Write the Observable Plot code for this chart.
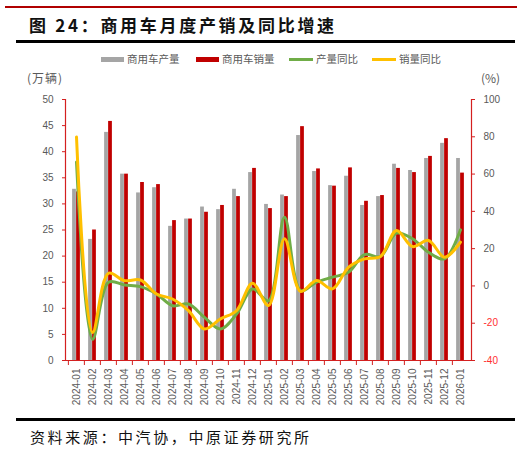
<!DOCTYPE html>
<html><head><meta charset="utf-8">
<script src="https://cdn.jsdelivr.net/npm/d3@7"></script>
<script src="https://cdn.jsdelivr.net/npm/@observablehq/plot@0.6"></script>
<style>
body{margin:0;width:524px;height:451px;position:relative;background:#fff;overflow:hidden;font-family:"Noto Sans CJK SC","Noto Sans",sans-serif;}
.abs{position:absolute;white-space:nowrap;}
.lg{font-size:10.5px;color:#595959;line-height:12px;}
</style></head>
<body>
<div class="abs" style="left:5px;top:6px;width:512px;height:2px;background:#b00000"></div>
<div class="abs" style="left:29px;top:13px;font-size:17px;font-weight:bold;letter-spacing:2.7px;color:#111;line-height:24px">图 24：商用车月度产销及同比增速</div>
<div class="abs" style="left:16px;top:40px;width:499px;height:2.5px;background:#000"></div>
<div id="legend"></div>
<div class="abs" style="left:27px;top:69px;font-size:12px;color:#595959;letter-spacing:1px">(万辆)</div>
<div class="abs" style="left:481px;top:69px;font-size:12px;color:#595959">(%)</div>
<div id="chart" class="abs" style="left:0;top:68px"></div>
<div class="abs" style="left:16px;top:418px;width:499px;height:2.5px;background:#000"></div>
<div class="abs" style="left:30px;top:427px;font-size:15px;letter-spacing:2.6px;color:#111;line-height:20px">资料来源：中汽协，中原证券研究所</div>
<script>
const months = ["2024-01","2024-02","2024-03","2024-04","2024-05","2024-06","2024-07","2024-08","2024-09","2024-10","2024-11","2024-12","2025-01","2025-02","2025-03","2025-04","2025-05","2025-06","2025-07","2025-08","2025-09","2025-10","2025-11","2025-12","2026-01"];
const production = [32.8,23.2,43.7,35.7,32.1,33.1,25.7,27.1,29.4,28.9,32.8,36.0,29.9,31.7,43.1,36.2,33.5,35.3,29.7,31.4,37.6,36.4,38.7,41.6,38.7];
const sales = [32.3,25.0,45.8,35.7,34.1,33.7,26.8,27.1,28.4,29.7,31.4,36.8,29.1,31.4,44.8,36.7,33.4,36.9,30.5,31.6,36.8,36.0,39.1,42.5,35.9];
const prodYoY = [66.5,-28.6,2.0,0.5,-0.4,-4.3,-10.6,-9.7,-16.9,-23.1,-15.1,-1.6,-8.0,36.9,-2.5,2.0,4.7,7.3,16.8,15.8,28.3,25.3,18.1,14.5,30.1];
const salesYoY = [79.9,-25.0,6.8,2.8,3.2,-4.3,-7.0,-13.3,-23.1,-17.7,-13.3,1.4,-10.5,25.3,-2.9,2.9,-1.6,10.0,14.5,15.8,29.7,21.1,24.4,15.4,23.5];
const leftTicks = [0,5,10,15,20,25,30,35,40,45,50];
const rightTicks = [-40,-20,0,20,40,60,80,100];
const legendItems = [
  {name:"商用车产量", color:"#a5a5a5", type:"bar", x:101},
  {name:"商用车销量", color:"#c00000", type:"bar", x:196},
  {name:"产量同比", color:"#70ad47", type:"line", x:289},
  {name:"销量同比", color:"#ffc000", type:"line", x:372}
];

const GRAY="#a5a5a5", RED="#c00000", GREEN="#70ad47", YELLOW="#ffc000", AXIS="#d42020", TXT="#595959";
const W=524, H=345, mL=65, mR=53, mT=31, mB=53;
const bw=(W-mL-mR)/months.length;
// right axis (%) mapped onto left scale domain [0,50]
const toL = v => (v+40)*50/140;
const fromL = d => Math.round(d*140/50-40);

const rows = months.map((m,i)=>({m, p:production[i], s:sales[i], py:toL(prodYoY[i]), sy:toL(salesYoY[i])}));

// legend
const lg=document.getElementById("legend");
legendItems.forEach(it=>{
  const d=document.createElement("div");
  d.className="abs lg"; d.style.left=it.x+"px"; d.style.top="53px";
  const sw=document.createElement("span");
  sw.style.cssText=`display:inline-block;vertical-align:middle;width:${it.type==="bar"?23:24}px;height:${it.type==="bar"?5:3}px;background:${it.color};margin-right:3px;margin-top:-2px`;
  d.appendChild(sw);
  d.appendChild(document.createTextNode(it.name));
  lg.appendChild(d);
});

const chart = Plot.plot({
  width: W, height: H,
  marginLeft: mL, marginRight: mR, marginTop: mT, marginBottom: mB,
  style: {fontFamily: "'Liberation Sans', Arial, sans-serif", fontSize: "10px", background: "transparent"},
  x: {domain: months, padding: 0, axis: null},
  y: {domain: [0,50], axis: null},
  marks: [
    Plot.barY(rows, {x:"m", y:"p", fill:GRAY, insetLeft: bw/2-4, insetRight: bw/2}),
    Plot.barY(rows, {x:"m", y:"s", fill:RED, insetLeft: bw/2, insetRight: bw/2-4}),
    Plot.lineY(rows, {x:"m", y:"py", stroke:GREEN, strokeWidth:3, curve:"catmull-rom"}),
    Plot.lineY(rows, {x:"m", y:"sy", stroke:YELLOW, strokeWidth:3, curve:"catmull-rom"}),
    Plot.ruleY([0], {stroke:AXIS, strokeWidth:1.2}),
    Plot.frame({anchor:"left", stroke:AXIS, strokeWidth:1.2}),
    Plot.frame({anchor:"right", stroke:AXIS, strokeWidth:1.2}),
    Plot.axisY({anchor:"left", ticks:leftTicks, tickSize:3, tickPadding:9, stroke:AXIS, fill:TXT, label:null, tickFormat:d=>String(d)}),
    Plot.axisY({anchor:"right", ticks:rightTicks.filter(v=>v>=0).map(toL), tickSize:3, tickPadding:9, stroke:AXIS, fill:TXT, label:null, tickFormat:d=>String(fromL(d))}),
    Plot.axisY({anchor:"right", ticks:rightTicks.filter(v=>v<0).map(toL), tickSize:3, tickPadding:9, stroke:AXIS, fill:"#ff3030", label:null, tickFormat:d=>String(fromL(d))}),
    Plot.axisX({tickSize:5, stroke:AXIS, label:null, tickFormat:()=>"", dx:-bw/2}),
    Plot.axisX({tickSize:0, tickRotate:-90, tickPadding:8, fill:TXT, label:null, tickFormat:d=>d})
  ]
});
document.getElementById("chart").appendChild(chart);
</script>
</body></html>
